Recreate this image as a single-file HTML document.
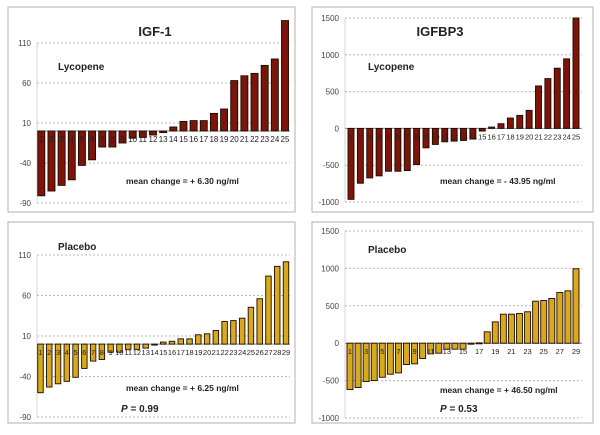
<!DOCTYPE html>
<html><head><meta charset="utf-8">
<style>
html,body{margin:0;padding:0;background:#fff;}
svg{display:block;font-family:"Liberation Sans",sans-serif;}
</style></head>
<body>
<svg id="fig" width="600" height="435" viewBox="0 0 600 435"></svg>
<script>
const igfLycValues=[-81,-75,-68,-61,-43,-36,-20,-20,-15,-9,-8,-5,-2,5,12,13,13,22,27.5,63,69,72,82,90,138];
const bp3LycValues=[-964,-745,-673,-645,-582,-582,-573,-491,-264,-218,-182,-173,-164,-145,-36,18,64,141,177,245,577,677,818,945,1500];
const igfPlaValues=[-60,-53,-49,-46,-41,-30,-21,-19,-10,-10,-6.5,-6.5,-5,-1,2.5,3.5,6.5,6.5,11.5,12.7,16.8,28,29,32,45.5,56,84,96,101.6];
const bp3PlaValues=[-620,-593,-513,-500,-455,-415,-397,-285,-276,-205,-143,-134,-80,-80,-80,-5,5,152,285,388,388,397,420,562,571,598,678,700,995];
const igfTicks=[110,60,10,-40,-90];
const bp3Ticks=[1500,1000,500,0,-500,-1000];

const NS="http://www.w3.org/2000/svg";
const svg=document.getElementById('fig');
function mk(tag,attrs,parent){const e=document.createElementNS(NS,tag);for(const k in attrs)e.setAttribute(k,attrs[k]);(parent||svg).appendChild(e);return e;}

function panel(cfg){
  const g=mk('g',{});
  
  
  const box=mk('rect',{x:cfg.box[0],y:cfg.box[1],width:cfg.box[2],height:cfg.box[3],fill:'#fff',stroke:'#bdbdbd','stroke-width':1.2},g);
  
  
  const vmin=cfg.ticks[cfg.ticks.length-1], vmax=cfg.ticks[0];
  const yScale=v=>cfg.yTop+(vmax-v)*(cfg.yBot-cfg.yTop)/(vmax-vmin);
  const n=cfg.values.length;
  const xScale=i=>cfg.x0+i*(cfg.x1-cfg.x0)/(n-1);
  cfg.ticks.forEach(t=>{
    const y=yScale(t);
    if(t!==cfg.zeroTick){
      const l=mk('line',{x1:cfg.gx0,x2:cfg.gx1,y1:y,y2:y,stroke:'#b8b8b8','stroke-width':1,'stroke-dasharray':'2,2'},g);
      
      
    }
    const tx=mk('text',{x:cfg.gx0-6,y:y+3,'text-anchor':'end','font-size':8,fill:'#444'},g);
    tx.textContent=t;
    
    
  });
  const y0=yScale(0);
  const ax=mk('line',{x1:cfg.gx0,x2:cfg.gx1,y1:y0,y2:y0,stroke:'#888','stroke-width':1},g);
  
  
  const yax=mk('line',{x1:cfg.gx0,x2:cfg.gx0,y1:cfg.yTop,y2:cfg.yBot,stroke:'#bbb','stroke-width':0.6},g);
  
  
  cfg.values.forEach((v,i)=>{
    const cx=xScale(i), yv=yScale(v);
    const r=mk('rect',{x:cx-cfg.bw/2,y:Math.min(yv,y0),width:cfg.bw,height:Math.max(Math.abs(yv-y0),1),fill:cfg.fill,stroke:'#1a0a00','stroke-width':0.9},g);
    
    
  });
  cfg.values.forEach((v,i)=>{
    if(cfg.oddOnly && i%2===1) return;
    const t=mk('text',{x:xScale(i),y:y0+11,'text-anchor':'middle','font-size':cfg.lblSize,fill:'#222'},g);
    t.textContent=i+1;
    
    
  });
  cfg.texts.forEach(tt=>{
    const t=mk('text',{x:tt[0],y:tt[1],'font-size':tt[3],'font-weight':'bold',fill:'#222','text-anchor':tt[4]||'start'},g);
    if(tt[2].startsWith('P =')){
      const a=mk('tspan',{'font-style':'italic'},t);a.textContent='P';
      const b=mk('tspan',{},t);b.textContent=tt[2].slice(1);
    } else t.textContent=tt[2];
    
    
  });
}

panel({name:'igf1-lycopene-chart',box:[8,7,287,205],values:igfLycValues,ticks:igfTicks,zeroTick:null,
  yTop:43,yBot:203,gx0:37,gx1:290,x0:41.3,x1:285,bw:7,fill:'#7d1409',lblSize:8,oddOnly:false,
  texts:[[155,36,'IGF-1',13,'middle','chart-title'],[58,70,'Lycopene',10,'start','group-label'],[126,184,'mean change = + 6.30 ng/ml',8.5,'start','mean-change-label']]});
panel({name:'igfbp3-lycopene-chart',box:[312,7,281,205],values:bp3LycValues,ticks:bp3Ticks,zeroTick:0,
  yTop:18,yBot:202,gx0:345,gx1:582,x0:351,x1:576,bw:6,fill:'#7d1409',lblSize:7.5,oddOnly:false,
  texts:[[440,36,'IGFBP3',13,'middle','chart-title'],[368,70,'Lycopene',10,'start','group-label'],[440,184,'mean change = - 43.95 ng/ml',8.5,'start','mean-change-label']]});
panel({name:'igf1-placebo-chart',box:[8,222,287,201],values:igfPlaValues,ticks:igfTicks,zeroTick:null,
  yTop:255,yBot:417,gx0:37,gx1:290,x0:40.5,x1:286,bw:5.5,fill:'#d9a81c',lblSize:7.5,oddOnly:false,
  texts:[[58,250,'Placebo',10,'start','group-label'],[126,391,'mean change = + 6.25 ng/ml',8.5,'start','mean-change-label'],[121,412,'P = 0.99',10,'start','p-value-label']]});
panel({name:'igfbp3-placebo-chart',box:[312,222,281,201],values:bp3PlaValues,ticks:bp3Ticks,zeroTick:0,
  yTop:231,yBot:418,gx0:345,gx1:582,x0:350,x1:576,bw:6,fill:'#d9a81c',lblSize:7.5,oddOnly:true,
  texts:[[368,253,'Placebo',10,'start','group-label'],[440,393,'mean change = + 46.50 ng/ml',8.5,'start','mean-change-label'],[440,412,'P = 0.53',10,'start','p-value-label']]});
</script>
</body></html>
